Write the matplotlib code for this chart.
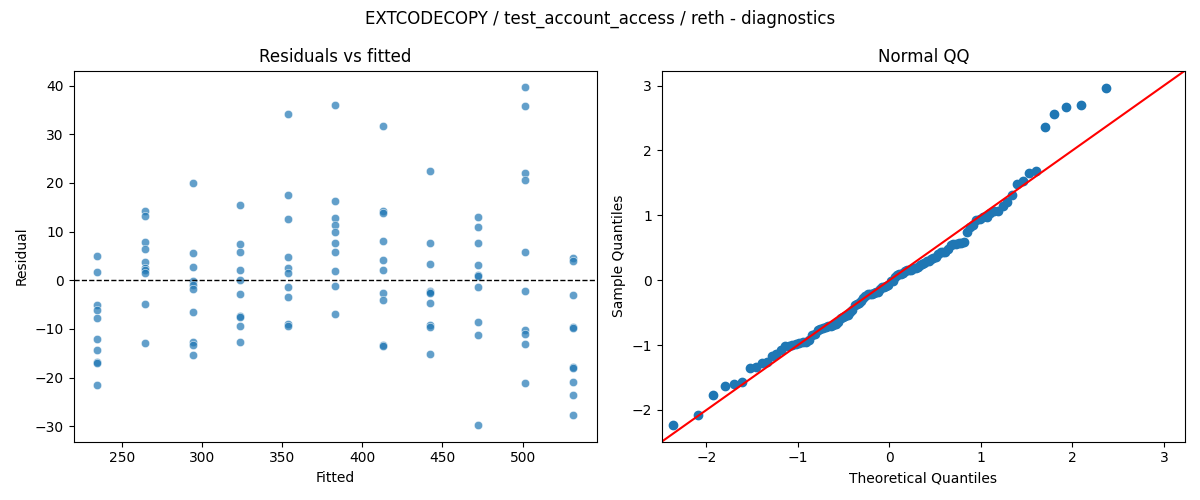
import numpy as np
import matplotlib
matplotlib.use("Agg")
import matplotlib.pyplot as plt
from statistics import NormalDist

# fitted levels (11 groups) and residuals
fitted_levels = [234.8, 264.5, 294.2, 323.8, 353.5, 383.1,
                 412.8, 442.4, 472.1, 501.8, 531.5]

resid_groups = [
    [4.9, 1.6, -5.1, -6.1, -7.7, -12.1, -14.3, -16.8, -17.0, -21.6],
    [14.2, 13.1, 7.8, 6.5, 3.7, 2.6, 2.2, 1.4, -4.9, -12.8],
    [19.9, 5.5, 2.7, -0.1, -1.0, -1.8, -6.5, -12.7, -13.4, -15.4],
    [15.4, 7.4, 5.9, 2.2, 0.0, -2.8, -7.3, -7.5, -9.4, -12.7],
    [34.2, 17.5, 12.5, 4.7, 2.5, 1.4, -1.4, -3.5, -8.9, -9.3],
    [36.0, 16.2, 12.7, 11.3, 9.9, 7.6, 5.9, 2.0, -1.2, -7.0],
    [31.6, 14.2, 13.9, 8.0, 4.1, 2.2, -2.7, -4.1, -13.2, -13.5],
    [22.5, 7.7, 3.3, -2.3, -2.5, -2.7, -4.6, -9.1, -9.6, -15.1],
    [13.0, 10.9, 7.6, 3.1, 1.1, 0.8, -1.4, -8.5, -11.2, -29.7],
    [39.6, 35.7, 22.1, 20.5, 5.8, -2.3, -10.2, -11.0, -13.0, -21.2],
    [4.5, 4.0, -3.1, -9.7, -9.9, -17.8, -18.0, -20.8, -23.5, -27.6],
]

title = "EXTCODECOPY / test_account_access / reth - diagnostics"

fitted = np.concatenate([[f] * len(g) for f, g in zip(fitted_levels, resid_groups)])
resid = np.concatenate([np.array(g) for g in resid_groups])

fig, (ax1, ax2) = plt.subplots(1, 2, figsize=(12, 5), dpi=100)

# residuals vs fitted
ax1.scatter(fitted, resid, s=36, color="#1f77b4", alpha=0.7,
            edgecolors="white", linewidths=0.48)
ax1.axhline(0, color="black", linestyle="--", linewidth=1)
ax1.set_title("Residuals vs fitted")
ax1.set_xlabel("Fitted")
ax1.set_ylabel("Residual")

# normal QQ of standardized residuals
n = len(resid)
sample_q = np.sort((resid - resid.mean()) / resid.std())
nd = NormalDist()
theo_q = np.array([nd.inv_cdf(i / (n + 1)) for i in range(1, n + 1)])
ax2.plot(theo_q, sample_q, "o", color="#1f77b4", markersize=6)
lims = [-2.49, 3.23]
ax2.plot(lims, lims, "r-", linewidth=1.5)
ax2.set_xlim(lims)
ax2.set_ylim(lims)
ax2.set_title("Normal QQ")
ax2.set_xlabel("Theoretical Quantiles")
ax2.set_ylabel("Sample Quantiles")

fig.suptitle(title)
fig.tight_layout()
fig.savefig("out.png")
